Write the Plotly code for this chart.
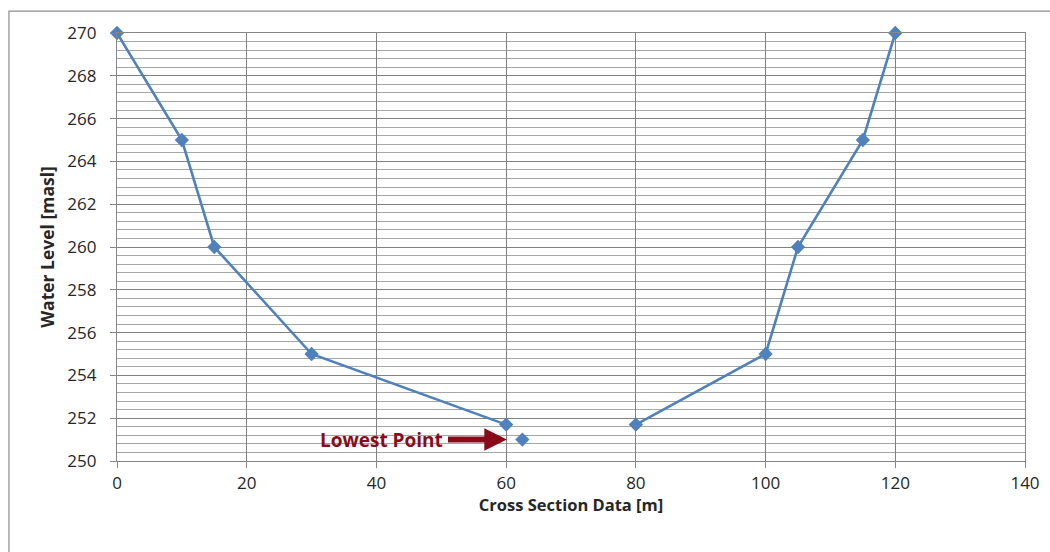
import plotly.graph_objects as go

# Cross-section survey: left bank, right bank and the channel's lowest point
left_x = [0, 10, 15, 30, 60]
left_level = [270, 265, 260, 255, 251.7]
right_x = [80, 100, 105, 115, 120]
right_level = [251.7, 255, 260, 265, 270]
lowest_x = [62.5]
lowest_level = [251.0]

x_ticks = [0, 20, 40, 60, 80, 100, 120, 140]
y_ticks = [250, 252, 254, 256, 258, 260, 262, 264, 266, 268, 270]

line_color = "#4F81BD"
arrow_color = "#8B0A1A"
font_family = "'Open Sans', 'Liberation Sans', Arial, sans-serif"

fig = go.Figure()

# Both banks in one trace, split by a gap
fig.add_trace(go.Scatter(
    x=left_x + [None] + right_x,
    y=left_level + [None] + right_level,
    mode="lines+markers",
    line=dict(color=line_color, width=2.6),
    marker=dict(symbol="diamond", size=11, color=line_color),
    connectgaps=False,
    cliponaxis=False,
    showlegend=False,
    hoverinfo="x+y",
))

fig.add_trace(go.Scatter(
    x=lowest_x,
    y=lowest_level,
    mode="markers",
    marker=dict(symbol="diamond", size=11, color=line_color),
    cliponaxis=False,
    showlegend=False,
    hoverinfo="x+y",
))

# Block arrow pointing at the lowest point
fig.add_annotation(
    x=lowest_x[0] - 2.4, y=lowest_level[0],
    ax=50.8, ay=lowest_level[0],
    xref="x", yref="y", axref="x", ayref="y",
    text="", showarrow=True,
    arrowhead=2, arrowsize=0.75, arrowwidth=6, arrowcolor=arrow_color,
)
fig.add_annotation(
    x=50.6, y=lowest_level[0],
    xref="x", yref="y",
    text="<b>Lowest Point</b>", showarrow=False,
    xanchor="right", yanchor="middle",
    font=dict(family=font_family, size=19, color=arrow_color),
)

# Outer chart frame
fig.add_shape(
    type="rect", xref="paper", yref="paper",
    x0=-0.119, y0=-0.3, x1=1.2, y1=1.051,
    line=dict(color="#8c8c8c", width=1.2), layer="below",
)

axis_common = dict(
    showline=True, linecolor="#868686", linewidth=1.2, mirror=True,
    ticks="outside", ticklen=6, tickcolor="#868686",
    tickfont=dict(family=font_family, size=17, color="#262626"),
    zeroline=False, automargin=False,
)

fig.update_layout(
    width=1050, height=552,
    margin=dict(l=117, r=25, t=33, b=91),
    paper_bgcolor="white", plot_bgcolor="white",
    font=dict(family=font_family),
    xaxis=dict(
        range=[0, 140], tickvals=x_ticks,
        showgrid=True, gridcolor="#808080", gridwidth=1,
        ticklabelstandoff=0,
        title=dict(text="<b>Cross Section Data [m]</b>",
                   font=dict(family=font_family, size=16.5, color="#262626"),
                   standoff=2),
        **axis_common,
    ),
    yaxis=dict(
        range=[250, 270], tickvals=y_ticks,
        showgrid=True, gridcolor="#808080", gridwidth=1,
        ticklabelstandoff=10,
        minor=dict(dtick=0.4, showgrid=True, gridcolor="#a6a6a6", gridwidth=1),
        title=dict(text="<b>Water Level [masl]</b>",
                   font=dict(family=font_family, size=17.5, color="#262626"),
                   standoff=8),
        **axis_common,
    ),
)

fig.write_html("out.html")
